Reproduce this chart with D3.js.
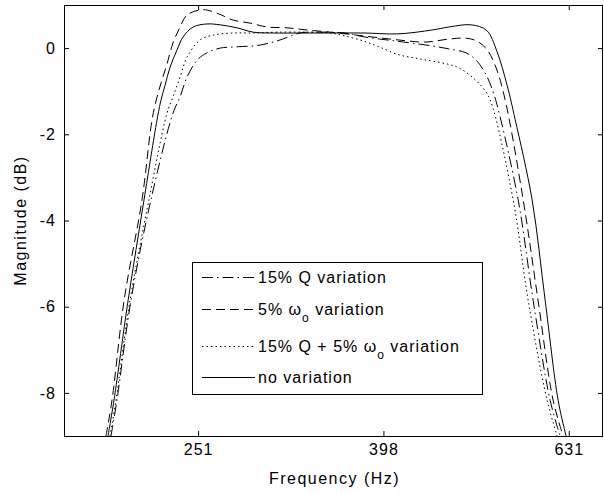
<!DOCTYPE html>
<html><head><meta charset="utf-8">
<script src="https://cdn.jsdelivr.net/npm/d3@7"></script>
<style>
body{margin:0;background:#fff;}
text{font-family:"Liberation Sans",Arial,sans-serif;fill:#000;}
</style>
</head><body>
<svg id="chart" width="604" height="493"></svg>
<script>
// ---- data (frequency in Hz, magnitude in dB) ----
const xTickValues = [251.19, 398.11, 630.96];
const xTickLabels = ["251", "398", "631"];
const yTickValues = [0, -2, -4, -6, -8];

// 15% Q variation (dash-dot)
const freqQ = [202.3,205.3,212.6,223.4,236.0,240.2,244.4,250.6,256.8,265.3,276.7,293.0,308.0,323.6,337.6,362.0,379.4,411.8,449.3,468.6,488.9,501.2,513.8,522.9,529.4,556.4,577.5,602.4,617.6];
const magQ  = [-9,-8.17,-5.85,-3.52,-1.51,-1.13,-0.67,-0.28,-0.11,0.00,0.03,0.07,0.19,0.35,0.37,0.35,0.26,0.16,0.05,-0.02,-0.11,-0.28,-0.62,-1.02,-1.41,-3.52,-5.85,-8.17,-9];

// 5% w0 variation (dashed)
const freqW = [199.8,202.8,209.0,218.5,224.0,226.8,229.6,232.5,236.0,240.2,244.4,254.3,263.3,274.0,285.8,298.2,313.3,329.3,348.7,379.4,412.8,441.5,468.6,488.9,502.5,515.2,526.8,538.7,563.4,584.6,606.9,622.2];
const magW  = [-9,-8.17,-5.85,-3.52,-1.67,-1.14,-0.74,-0.37,0.12,0.49,0.77,0.89,0.81,0.65,0.58,0.49,0.47,0.42,0.37,0.28,0.19,0.14,0.21,0.23,0.16,-0.04,-0.46,-1.20,-3.52,-5.85,-8.17,-9];

// 15% Q + 5% w0 variation (dotted)
const freqQW = [201.8,204.8,212.1,222.3,232.5,236.0,240.2,244.4,252.4,260.7,274.0,288.0,305.7,329.3,348.7,362.0,379.4,395.8,412.8,430.6,449.3,468.6,480.4,497.5,510.1,519.0,549.5,570.4,597.9,613.0];
const magQW  = [-9,-8.17,-5.85,-3.52,-1.51,-1.13,-0.67,-0.21,0.19,0.30,0.35,0.35,0.37,0.37,0.35,0.28,0.16,0.01,-0.15,-0.23,-0.30,-0.38,-0.46,-0.69,-0.93,-1.20,-3.52,-5.85,-8.17,-9];

// no variation (solid)
const freqN = [200.8,203.8,211.1,219.6,226.8,229.1,231.4,234.3,238.4,242.0,248.1,256.8,265.3,276.7,288.0,302.7,323.6,348.7,379.4,412.8,449.3,468.6,495.0,514.5,527.7,541.3,552.2,576.0,595.0,614.5,626.8];
const magN  = [-9,-8.17,-5.85,-3.52,-1.67,-1.20,-0.86,-0.44,-0.04,0.26,0.49,0.56,0.54,0.47,0.37,0.35,0.35,0.35,0.35,0.33,0.42,0.49,0.54,0.41,-0.07,-0.86,-1.65,-3.52,-5.85,-8.17,-9];

const seriesNames = ["15% Q variation", "5% ω|o| variation", "15% Q + 5% ω|o| variation", "no variation"];
const seriesFreqs = [freqQ, freqW, freqQW, freqN];
const seriesMags  = [magQ, magW, magQW, magN];
const seriesDash  = ["11,4,1.5,4", "9,5", "1.5,3", null];

// ---- layout ----
const W = 604, H = 493;
const L = 64, R = 603, T = 5, B = 436;
const svg = d3.select("#chart");
svg.append("rect").attr("width", W).attr("height", H).attr("fill", "#fff");

const x = d3.scaleLog().domain([180, 687]).range([L, R]);
const y = d3.scaleLinear().domain([-9, 1]).range([B, T]);

svg.append("defs").append("clipPath").attr("id", "clip")
  .append("rect").attr("x", L).attr("y", T).attr("width", R - L).attr("height", B - T);

// curves
const line = d3.line().x(d => x(d[0])).y(d => y(d[1])).curve(d3.curveCatmullRom.alpha(0.5));
const gLines = svg.append("g").attr("clip-path", "url(#clip)");
seriesFreqs.forEach((fs, i) => {
  const pts = fs.map((f, j) => [f, seriesMags[i][j]]);
  gLines.append("path").datum(pts)
    .attr("d", line)
    .attr("fill", "none")
    .attr("stroke", "#000")
    .attr("stroke-width", 1)
    .attr("stroke-dasharray", seriesDash[i]);
});

// axes
const fontSize = 16;
const gx = svg.append("g").attr("transform", `translate(0,${B})`)
  .call(d3.axisBottom(x).tickValues(xTickValues).tickFormat((d, i) => xTickLabels[i])
    .tickSizeInner(-5).tickSizeOuter(0).tickPadding(8));
const gxt = svg.append("g").attr("transform", `translate(0,${T})`)
  .call(d3.axisTop(x).tickValues(xTickValues).tickFormat("").tickSizeInner(-5).tickSizeOuter(0));
const gy = svg.append("g").attr("transform", `translate(${L},0)`)
  .call(d3.axisLeft(y).tickValues(yTickValues).tickFormat(d3.format("d"))
    .tickSizeInner(-5).tickSizeOuter(0).tickPadding(8));
const gyr = svg.append("g").attr("transform", `translate(${R},0)`)
  .call(d3.axisRight(y).tickValues(yTickValues).tickFormat("").tickSizeInner(-5).tickSizeOuter(0));
[gx, gxt, gy, gyr].forEach(g => {
  g.select(".domain").remove();
  g.selectAll(".tick line").attr("stroke", "#000");
  g.selectAll("text").attr("font-size", fontSize)
    .attr("font-family", "'Liberation Sans', Arial, sans-serif")
    .attr("letter-spacing", "1px").attr("fill", "#000");
});
gy.selectAll("text").text(d => d === 0 ? "0" : "-" + Math.abs(d));

// frame
svg.append("rect").attr("x", L + 0.5).attr("y", T + 0.5)
  .attr("width", R - L - 1).attr("height", B - T)
  .attr("fill", "none").attr("stroke", "#000").attr("stroke-width", 1);

// axis titles
svg.append("text").attr("x", (L + R) / 2 + 1).attr("y", 484)
  .attr("text-anchor", "middle").attr("font-size", fontSize).attr("letter-spacing", "1.5px")
  .text("Frequency (Hz)");
svg.append("text").attr("transform", `translate(26,${(T + B) / 2}) rotate(-90)`)
  .attr("text-anchor", "middle").attr("font-size", fontSize).attr("letter-spacing", "1.5px")
  .text("Magnitude (dB)");

// legend
const lg = svg.append("g");
lg.append("rect").attr("x", 192.5).attr("y", 262.5).attr("width", 290).attr("height", 132)
  .attr("fill", "#fff").attr("stroke", "#000").attr("stroke-width", 1);
const rowY = [277.5, 309.5, 346.5, 377.5];
seriesNames.forEach((name, i) => {
  lg.append("line").attr("x1", 202).attr("x2", 255).attr("y1", rowY[i]).attr("y2", rowY[i])
    .attr("stroke", "#000").attr("stroke-width", 1).attr("stroke-dasharray", seriesDash[i]);
  const t = lg.append("text").attr("x", 258).attr("y", rowY[i]).attr("dy", "0.35em")
    .attr("font-size", 16).attr("letter-spacing", "1px");
  const parts = name.split("|");
  parts.forEach((p, k) => {
    if (k % 2 === 1) {
      t.append("tspan").attr("dy", 7).attr("font-size", 12).text(p);
    } else {
      const ts = t.append("tspan").text(p);
      if (k > 0) ts.attr("dy", -7);
    }
  });
});
</script>
</body></html>
